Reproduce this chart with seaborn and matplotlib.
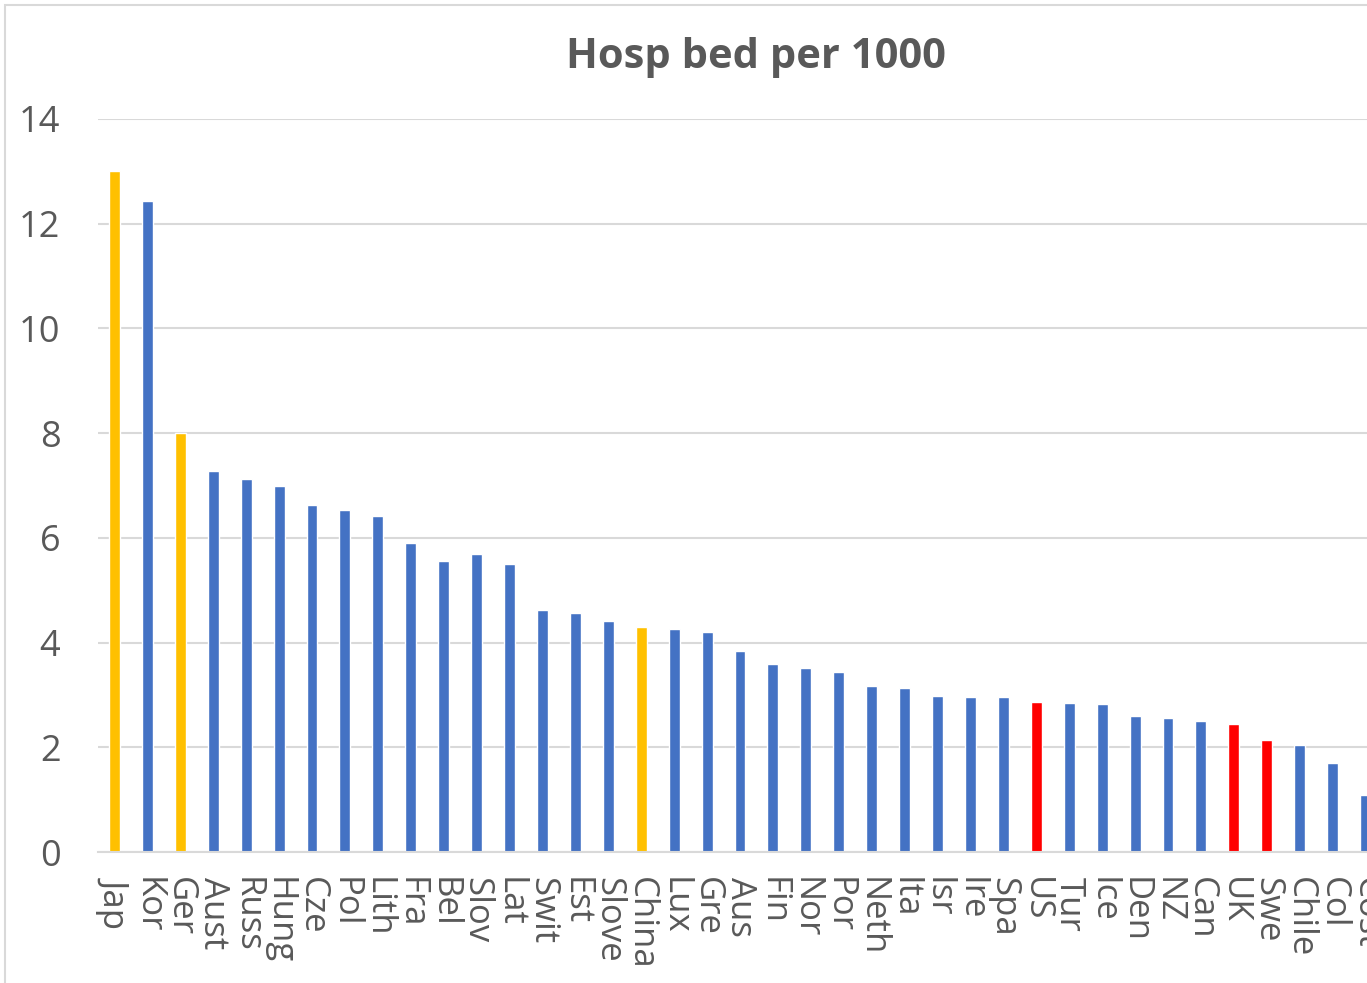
import numpy as np
import pandas as pd
import seaborn as sns
import matplotlib.pyplot as plt
from matplotlib.patches import Rectangle

# countries, left to right as in the source chart
countries = ["Jap", "Kor", "Ger", "Aust", "Russ", "Hung", "Cze", "Pol", "Lith", "Fra",
             "Bel", "Slov", "Lat", "Swit", "Est", "Slove", "China", "Lux", "Gre", "Aus",
             "Fin", "Nor", "Por", "Neth", "Ita", "Isr", "Ire", "Spa", "US", "Tur",
             "Ice", "Den", "NZ", "Can", "UK", "Swe", "Chile", "Col", "Cost"]
beds = [13.0, 12.43, 8.0, 7.27, 7.12, 7.0, 6.62, 6.53, 6.42, 5.9,
        5.56, 5.69, 5.51, 4.62, 4.56, 4.42, 4.29, 4.25, 4.2, 3.83,
        3.6, 3.52, 3.44, 3.17, 3.14, 2.98, 2.96, 2.96, 2.86, 2.84,
        2.82, 2.59, 2.56, 2.51, 2.45, 2.13, 2.05, 1.7, 1.09]
highlight_gold = ["Jap", "Ger", "China"]
highlight_red = ["US", "UK", "Swe"]
yticks = [0, 2, 4, 6, 8, 10, 12, 14]

BLUE = "#4472C4"
GOLD = "#FFC000"
RED = "#FF0000"
TEXT = "#595959"
GRID = "#D9D9D9"

colors = []
for c in countries:
    if c in highlight_gold:
        colors.append(GOLD)
    elif c in highlight_red:
        colors.append(RED)
    else:
        colors.append(BLUE)

df = pd.DataFrame({"country": countries, "beds": beds})

sns.set_style("white")
plt.rcParams["font.family"] = ["Open Sans", "DejaVu Sans"]

W, H = 1367, 983
fig = plt.figure(figsize=(W / 100, H / 100), dpi=100)
# light chart-area border (right and bottom edges fall outside the crop)
fig.patches.append(Rectangle((5 / W, -0.05), 1.1, 1 - 5 / H + 0.05, transform=fig.transFigure,
                             fill=False, edgecolor=GRID, linewidth=1.5))

# axes runs past the right edge, as in the cropped original
left, right = 98 / W, 1382 / W
bottom, top = 1 - 852 / H, 1 - 119 / H
ax = fig.add_axes([left, bottom, right - left, top - bottom])

sns.barplot(data=df, x="country", y="beds", hue="country", palette=colors,
            legend=False, width=0.33, saturation=1, ax=ax)

ax.set_xlim(-0.5, len(countries) - 0.5)
ax.set_ylim(0, 14)
ax.set_yticks(yticks)
ax.set_yticklabels([str(t) for t in yticks])
ax.yaxis.grid(True, color=GRID, linewidth=1.5)
ax.set_axisbelow(True)
ax.set_xlabel("")
ax.set_ylabel("")
for s in ["top", "right", "left"]:
    ax.spines[s].set_visible(False)
ax.spines["bottom"].set_color(GRID)
ax.spines["bottom"].set_linewidth(1.5)

ax.tick_params(axis="y", length=0, pad=27, labelsize=26, labelcolor=TEXT)
ax.tick_params(axis="x", length=0, pad=18, labelsize=25, labelcolor=TEXT)
for lab in ax.get_xticklabels():
    lab.set_rotation(270)
    lab.set_va("top")
    lab.set_ha("center")

fig.text(756 / W, 1 - 68 / H, "Hosp bed per 1000", ha="center", va="baseline",
         fontsize=30, fontweight="bold", color=TEXT)

fig.savefig("out.png", dpi=100)
